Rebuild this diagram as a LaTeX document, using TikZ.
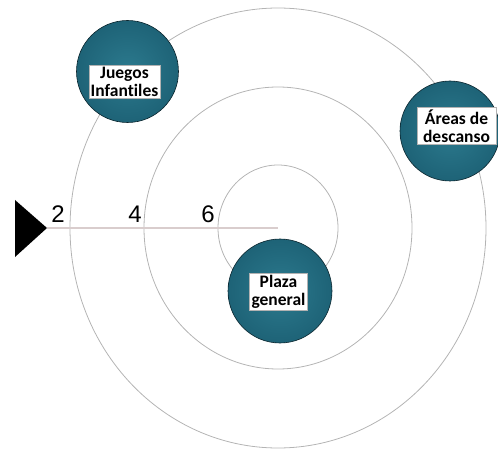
\documentclass[tikz,border=0pt]{standalone}
\usepackage{fontspec}
\setmainfont{Carlito}[Ligatures=NoCommon]
\newfontfamily\numfont{Liberation Sans}
\definecolor{spotin}{HTML}{2C7A8E}
\definecolor{spotmid}{HTML}{1C6074}
\definecolor{spotout}{HTML}{113E4D}
\definecolor{ringgray}{HTML}{B4B4B4}
\definecolor{axisgray}{HTML}{D9CDCD}
\pgfdeclareradialshading{spotshade}{\pgfpoint{0bp}{0bp}}{color(0bp)=(spotin); color(28bp)=(spotmid); color(45bp)=(spotout); color(50bp)=(spotout!75!black); color(100bp)=(spotout!75!black)}

\begin{document}
\begin{tikzpicture}[x=1pt,y=-1pt,
  ring/.style={draw=ringgray,line width=0.8pt},
  spot/.style={circle,inner sep=0pt,draw=spotout!60!black,line width=0.6pt,shading=spotshade},
  tag/.style={fill=white,draw=black!30,line width=0.3pt,inner sep=2pt,align=center,
    font=\bfseries\fontsize{17.5}{18}\selectfont,text=black},
  num/.style={font=\numfont\fontsize{24}{24}\selectfont}]
  \useasboundingbox (0,0) rectangle (498,449);
  \coordinate (ctr) at (278,228);
  % rings
  \draw[ring] (ctr) ellipse [x radius=208pt,y radius=220pt];
  \draw[ring] (ctr) ellipse [x radius=134pt,y radius=141pt];
  \draw[ring] (ctr) ellipse [x radius=60pt,y radius=63pt];
  % entry marker and scale
  \fill (15,200) -- (47,228) coordinate (tip) -- (15,257) -- cycle;
  \draw[axisgray,line width=1.2pt] (tip) -- (ctr);
  \node[num] (n2) at (58,214) {2};
  \node[num] (n4) at (135,214) {4};
  \node[num] (n6) at (208,214) {6};
  % zones
  \node[spot,minimum size=102pt] (juegos) at (127.5,71.5) {};
  \node[tag] (juegoslbl) at ([shift={(-3,10)}]juegos) {Juegos\\Infantiles};
  \node[spot,minimum size=100pt] (areas) at (450,131) {};
  \node[tag,minimum width=79pt] (areaslbl) at ([shift={(6.5,-5)}]areas) {Áreas de\\descanso};
  \node[spot,minimum size=104pt] (plaza) at (280,291) {};
  \node[tag] (plazalbl) at ([shift={(-1.5,1)}]plaza) {Plaza\\general};
\end{tikzpicture}
\end{document}
